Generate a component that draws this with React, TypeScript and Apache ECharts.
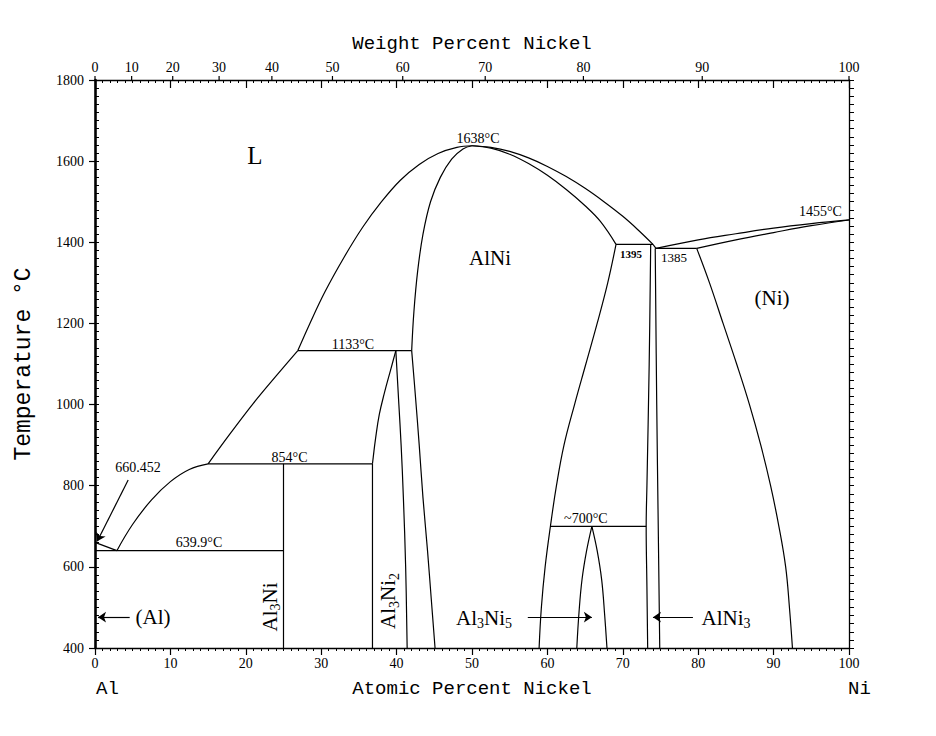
import React, { useEffect, useRef } from "react";
import * as echarts from "echarts";

// ---- axis ticks ----
const weightTicks = [0, 10, 20, 30, 40, 50, 60, 70, 80, 90, 100];
const NI_MASS = 58.693;
const AL_MASS = 26.982;
const wtToAt = (w: number) => {
  if (w >= 100) return 100;
  const n = w / NI_MASS;
  const a = (100 - w) / AL_MASS;
  return (100 * n) / (n + a);
};

// ---- phase boundaries [at.% Ni, °C] ----
const liquidusAlSide = [[0, 660.452], [2.9, 639.9]];
const liquidusAl3NiField = [[2.9, 639.9], [5, 705], [7.5, 765], [10, 810], [12.5, 840], [15, 854]];
const liquidusAl3Ni2Field = [[15, 854], [18, 930], [21, 1003], [24, 1070], [26.9, 1133]];
const liquidusAlNiAlSide = [[26.9, 1133], [28.5, 1200], [30.5, 1278], [33, 1362], [35.5, 1437], [38, 1500], [40.5, 1553], [43, 1592], [45.5, 1619], [48, 1634], [50, 1638]];
const solidusAlNiAlSide = [[42, 1133], [42.3, 1230], [42.8, 1330], [43.5, 1420], [44.5, 1500], [45.8, 1560], [47.3, 1605], [48.8, 1630], [50, 1638]];
const solvusAlNiAlSide = [[42, 1133], [42.5, 1020], [43, 900], [43.5, 770], [44.1, 640], [44.6, 520], [45.1, 400]];
const al3Ni2LeftUpper = [[39.9, 1133], [39.2, 1085], [38.4, 1030], [37.7, 975], [37.2, 915], [36.9, 870], [36.8, 854]];
const al3Ni2LeftLower = [[36.8, 854], [36.8, 400]];
const al3Ni2Right = [[39.9, 1133], [40.3, 1000], [40.6, 900], [40.9, 770], [41.2, 600], [41.4, 400]];
const al3NiLine = [[25, 854], [25, 400]];
const isotherm639 = [[0, 639.9], [25, 639.9]];
const isotherm854 = [[15, 854], [36.8, 854]];
const isotherm1133 = [[26.9, 1133], [42, 1133]];
const liquidusAlNiNiSide = [[50, 1638], [52.5, 1634], [55, 1624], [57.5, 1608], [60, 1587], [62.5, 1562], [65, 1533], [67.5, 1500], [70, 1464], [72, 1431], [74, 1395]];
const liquidusPeritecticEutectic = [[74, 1395], [74.4, 1385]];
const solidusAlNiNiSide = [[50, 1638], [52.5, 1632], [55, 1617], [57.5, 1594], [60, 1565], [62.5, 1530], [65, 1490], [67, 1452], [69.1, 1395]];
const solvusAlNiNiSide = [[69.1, 1395], [68, 1300], [66.6, 1200], [65.1, 1100], [63.6, 1000], [62.2, 900], [61.2, 800], [60.4, 700], [59.7, 600], [59.2, 500], [58.9, 400]];
const isotherm1395 = [[69.1, 1395], [74, 1395]];
const alNi3Left = [[73.7, 1395], [73.5, 1100], [73.2, 800], [73.1, 700], [73.2, 550], [73.3, 400]];
const alNi3Right = [[74.3, 1385], [74.5, 1000], [74.7, 700], [74.9, 400]];
const isotherm1385 = [[74.3, 1385], [79.8, 1385]];
const isotherm700 = [[60.4, 700], [73.1, 700]];
const al3Ni5Left = [[65.9, 700], [65.2, 640], [64.6, 570], [64.2, 490], [63.9, 400]];
const al3Ni5Right = [[65.9, 700], [66.6, 640], [67.2, 568], [67.6, 480], [67.9, 400]];
const liquidusNi = [[74.4, 1385], [80, 1406], [85, 1421], [90, 1435], [95, 1446], [100, 1455]];
const solidusNi = [[79.8, 1385], [85, 1406], [90, 1424], [95, 1441], [100, 1455]];
const solvusNi = [[79.8, 1385], [81.5, 1300], [83.3, 1200], [85.1, 1100], [86.8, 1000], [88.3, 900], [89.6, 800], [90.7, 700], [91.6, 600], [92.1, 500], [92.5, 400]];

// ---- pointers [from, to] ----
const pointer660 = [[4.4, 814], [0.3, 663]];
const pointerAl = [[4.6, 476], [0.4, 476]];
const pointerAl3Ni5 = [[57.4, 476], [65.9, 476]];
const pointerAlNi3 = [[79.3, 476], [74.0, 476]];

// ---- annotations ----
const phaseLabels = [
  { x: 21.2, t: 1615, text: "L", kind: "big" },
  { x: 52.4, t: 1361, text: "AlNi", kind: "phase" },
  { x: 89.8, t: 1263, text: "(Ni)", kind: "phase" },
  { x: 7.7, t: 476, text: "(Al)", kind: "phase" },
  { x: 51.6, t: 474, text: "Al{s|3}Ni{s|5}", kind: "phase" },
  { x: 83.7, t: 474, text: "AlNi{s|3}", kind: "phase" },
  { x: 23.2, t: 501, text: "Al{s|3}Ni", kind: "vphase" },
  { x: 38.9, t: 516, text: "Al{s|3}Ni{s|2}", kind: "vphase" },
];
const tempLabels = [
  { x: 50.8, t: 1655, text: "1638°C", kind: "temp" },
  { x: 96.2, t: 1475, text: "1455°C", kind: "temp" },
  { x: 34.2, t: 1149, text: "1133°C", kind: "temp" },
  { x: 25.8, t: 869, text: "854°C", kind: "temp" },
  { x: 13.8, t: 659, text: "639.9°C", kind: "temp" },
  { x: 5.7, t: 844, text: "660.452", kind: "temp" },
  { x: 65.1, t: 719, text: "~700°C", kind: "temp" },
  { x: 71.1, t: 1371, text: "1395", kind: "tiny" },
  { x: 76.8, t: 1362, text: "1385", kind: "small" },
];

const boundaries = [
  liquidusAlSide, liquidusAl3NiField, liquidusAl3Ni2Field, liquidusAlNiAlSide,
  solidusAlNiAlSide, solvusAlNiAlSide, al3Ni2LeftUpper, al3Ni2LeftLower, al3Ni2Right,
  al3NiLine, isotherm639, isotherm854, isotherm1133, liquidusAlNiNiSide, liquidusPeritecticEutectic,
  solidusAlNiNiSide, solvusAlNiNiSide, isotherm1395, alNi3Left, alNi3Right,
  isotherm1385, isotherm700, al3Ni5Left, al3Ni5Right, liquidusNi, solidusNi, solvusNi,
];
const pointers = [pointer660, pointerAl, pointerAl3Ni5, pointerAlNi3];

const SERIF = "Liberation Serif";
const MONO = "Liberation Mono";

const textStyles: Record<string, any> = {
  big: { fontSize: 25, fontFamily: SERIF },
  phase: { fontSize: 21, fontFamily: SERIF },
  vphase: { fontSize: 21, fontFamily: SERIF, rotate: true },
  temp: { fontSize: 14, fontFamily: SERIF },
  small: { fontSize: 13, fontFamily: SERIF },
  tiny: { fontSize: 11, fontFamily: SERIF, fontWeight: "bold" },
};

const allLabels = [...phaseLabels, ...tempLabels];

export default function App() {
  const ref = useRef<HTMLDivElement>(null);
  useEffect(() => {
    if (!ref.current) return;
    const chart = echarts.init(ref.current, undefined, { renderer: "svg" });
    const black = "#000";
    const lineSeries = boundaries.map((d) => ({
      type: "line",
      data: d,
      xAxisIndex: 0,
      yAxisIndex: 0,
      symbol: "none",
      showSymbol: false,
      smooth: d.length > 2 ? 0.4 : false,
      lineStyle: { color: black, width: 1.2 },
      silent: true,
      z: 3,
    }));
    const pointerSeries = {
      type: "line",
      data: [],
      xAxisIndex: 0,
      yAxisIndex: 0,
      symbol: "none",
      markLine: {
        silent: true,
        symbol: ["none", "arrow"],
        symbolSize: 8,
        label: { show: false },
        lineStyle: { color: black, width: 1.2, type: "solid" },
        animation: false,
        data: pointers.map((p) => [{ coord: p[0] }, { coord: p[1] }]),
      },
    };
    const labelSeries = {
      type: "custom",
      xAxisIndex: 0,
      yAxisIndex: 0,
      silent: true,
      z: 5,
      data: allLabels.map((a, i) => [a.x, a.t, i]),
      renderItem: (params: any, api: any) => {
        const a = allLabels[api.value(2)];
        const st = textStyles[a.kind];
        const p = api.coord([a.x, a.t]);
        const fs = st.fontSize;
        return {
          type: "text",
          x: p[0],
          y: p[1],
          rotation: st.rotate ? Math.PI / 2 : 0,
          style: {
            text: a.text,
            fontSize: fs,
            fontFamily: st.fontFamily,
            fontWeight: st.fontWeight || "normal",
            fill: black,
            align: "center",
            verticalAlign: "middle",
            rich: {
              s: { fontSize: Math.round(fs * 0.65), fontFamily: st.fontFamily, fill: black, padding: [Math.round(fs * 0.55), 0, 0, 0] },
            },
          },
        };
      },
    };
    const weightSeries = {
      type: "custom",
      xAxisIndex: 0,
      yAxisIndex: 0,
      silent: true,
      z: 5,
      data: weightTicks.map((w) => [wtToAt(w), 1800, w]),
      renderItem: (params: any, api: any) => {
        const p = api.coord([api.value(0), api.value(1)]);
        return {
          type: "group",
          children: [
            { type: "line", shape: { x1: p[0], y1: p[1], x2: p[0], y2: p[1] - 4 }, style: { stroke: black, lineWidth: 1.2 } },
            {
              type: "text",
              x: p[0],
              y: p[1] - 6,
              style: { text: String(api.value(2)), fontSize: 14, fontFamily: SERIF, fill: black, align: "center", verticalAlign: "bottom" },
            },
          ],
        };
      },
    };
    const option: any = {
      animation: false,
      backgroundColor: "#fff",
      grid: { left: 95, right: 87, top: 80, bottom: 88, containLabel: false, outerBoundsMode: "none" },
      xAxis: [
        {
          type: "value",
          position: "bottom",
          min: 0,
          max: 100,
          interval: 10,
          name: "Atomic Percent Nickel",
          nameLocation: "middle",
          nameGap: 31,
          nameTextStyle: { fontFamily: MONO, fontSize: 19, color: black },
          axisLine: { show: true, lineStyle: { color: black, width: 1.3 } },
          axisTick: { show: true, inside: false, length: 7, lineStyle: { color: black, width: 1.2 } },
          minorTick: { show: true, splitNumber: 10, length: 3, lineStyle: { color: black, width: 1 } },
          axisLabel: { show: true, margin: 8, fontFamily: SERIF, fontSize: 14, color: black, formatter: (v: number) => String(v) },
          splitLine: { show: false },
        },
        {
          type: "value",
          position: "top",
          min: 0,
          max: 100,
          interval: 10,
          name: "Weight Percent Nickel",
          nameLocation: "middle",
          nameGap: 27,
          nameTextStyle: { fontFamily: MONO, fontSize: 19, color: black },
          axisLine: { show: true, lineStyle: { color: black, width: 1.3 } },
          axisTick: { show: true, inside: true, length: 8, lineStyle: { color: black, width: 1.2 } },
          minorTick: { show: true, splitNumber: 10, length: 3, lineStyle: { color: black, width: 1 } },
          axisLabel: { show: false },
          splitLine: { show: false },
        },
      ],
      yAxis: [
        {
          type: "value",
          position: "left",
          min: 400,
          max: 1800,
          interval: 200,
          name: "Temperature °C",
          nameLocation: "middle",
          nameGap: 60,
          nameTextStyle: { fontFamily: MONO, fontSize: 23, color: black },
          axisLine: { show: true, lineStyle: { color: black, width: 2.6 } },
          axisTick: { show: true, inside: false, length: 6, lineStyle: { color: black, width: 1.2 } },
          axisLabel: { show: true, margin: 11, fontFamily: SERIF, fontSize: 14, color: black, formatter: (v: number) => String(v) },
          splitLine: { show: false },
        },
        {
          type: "value",
          position: "left",
          min: 400,
          max: 1800,
          interval: 20,
          axisLine: { show: false },
          axisTick: { show: true, inside: true, length: 4, lineStyle: { color: black, width: 1 } },
          axisLabel: { show: false },
          splitLine: { show: false },
        },
        {
          type: "value",
          position: "right",
          min: 400,
          max: 1800,
          interval: 20,
          axisLine: { show: true, lineStyle: { color: black, width: 1.3 } },
          axisTick: { show: true, inside: false, length: 5, lineStyle: { color: black, width: 1 } },
          axisLabel: { show: false },
          splitLine: { show: false },
        },
      ],
      graphic: [
        { type: "text", left: 96, top: 679, style: { text: "Al", fontFamily: MONO, fontSize: 19, fill: black } },
        { type: "text", left: 848, top: 679, style: { text: "Ni", fontFamily: MONO, fontSize: 19, fill: black } },
      ],
      series: [...lineSeries, pointerSeries, labelSeries, weightSeries],
    };
    chart.setOption(option);
    return () => chart.dispose();
  }, []);
  return <div ref={ref} style={{ position: "fixed", left: 0, top: 0, width: 936, height: 736 }} />;
}
